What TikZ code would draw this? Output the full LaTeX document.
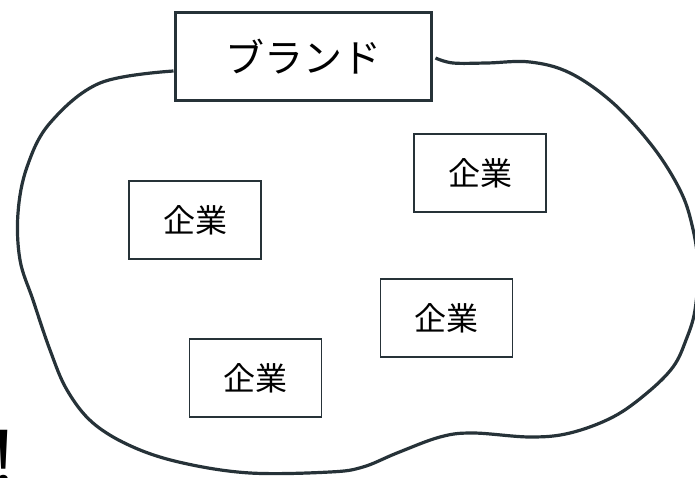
\documentclass[tikz,border=0pt]{standalone}
\usepackage{fontspec}
\setmainfont{Noto Sans}
\newfontfamily\jpfont{Noto Sans CJK JP}
\definecolor{outl}{RGB}{38,50,56}
\begin{document}
\begin{tikzpicture}[x=1pt,y=-1pt,
  brandbox/.style={draw=outl, line width=3pt, minimum width=256pt, minimum height=88pt, inner sep=0pt, font=\jpfont\fontsize{39}{42}\selectfont},
  corpbox/.style={draw=outl, line width=1.5pt, minimum width=132pt, minimum height=78pt, inner sep=0pt, font=\jpfont\fontsize{32}{36}\selectfont},
  blob/.style={draw=outl, line width=3.2pt, line join=round}]
\useasboundingbox (0,0) rectangle (695,478);
\node[brandbox] (brand) at (303,57) {ブランド};
\node[corpbox] (c1) at (195,220) {企業};
\node[corpbox] (c2) at (480,173) {企業};
\node[corpbox] (c3) at (446.5,318) {企業};
\node[corpbox] (c4) at (255.5,378) {企業};
\coordinate (L) at ([yshift=-14pt]brand.west);
\coordinate (R) at ([xshift=3pt,yshift=-1pt]brand.east);
\draw[blob] plot[smooth, tension=0.6] coordinates {(L) (100,83) (50,123) (27,167) (18,213) (20,260) (33,300) (50,350) (67,390) (93,423) (133,447) (183,463) (250,473) (330,472) (363,467) (397,453) (440,437) (473,433) (530,437) (570,433) (613,417) (647,393) (673,367) (686,340) (695,310) (698,265) (692,225) (680,190) (653,147) (613,103) (570,73) (530,62) (487,63) (453,63) (R)};
\node[anchor=base west, inner sep=0pt, font=\fontsize{76}{80}\selectfont] (excl) at (-7,484) {!};
\end{tikzpicture}
\end{document}
